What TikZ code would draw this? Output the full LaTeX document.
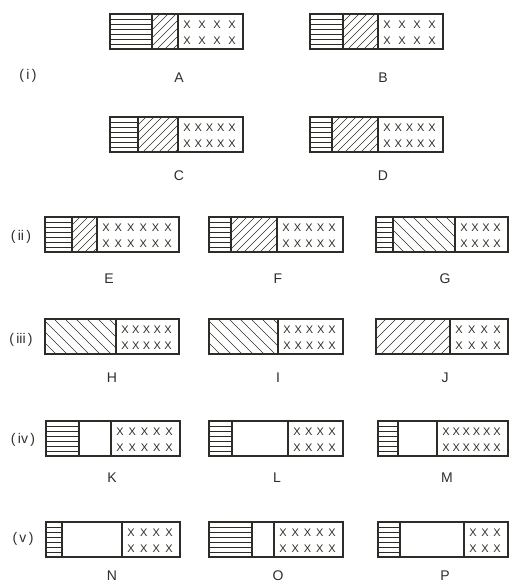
\documentclass[tikz,border=0pt]{standalone}
\usepackage{fontspec}
\setmainfont{Liberation Sans}
\usepackage{xcolor}
\usepackage{tikz}

\definecolor{ink}{RGB}{45,45,40}
\tikzset{
  frame/.style={draw=ink, line width=1.2pt},
  hatch/.style={draw=ink, line width=0.6pt},
  xmark/.style={text=ink, inner sep=0pt, font=\fontsize{11}{11}\selectfont},
  tag/.style={text=ink, font=\fontsize{14}{14}\selectfont}
}

% horizontal stripes: x1, x2, top
\newcommand{\hstripes}[3]{%
  \foreach \k in {5,10,...,30} \draw[hatch] (#1,#3+\k) -- (#2,#3+\k);}
% slanted hatching: x1, x2, top, gap
\newcommand{\slantfwd}[4]{%
  \begin{scope}
    \clip (#1,#3) rectangle (#2,#3+35);
    \foreach \k in {0,...,20} \draw[hatch] (#1-35+\k*#4,#3+35) -- ++(35,-35);
  \end{scope}}
\newcommand{\slantback}[4]{%
  \begin{scope}
    \clip (#1,#3) rectangle (#2,#3+35);
    \foreach \k in {0,...,20} \draw[hatch] (#1-35+\k*#4,#3) -- ++(35,35);
  \end{scope}}
\newcommand{\hatchfwd}[3]{\slantfwd{#1}{#2}{#3}{8}}
\newcommand{\hatchwide}[3]{\slantfwd{#1}{#2}{#3}{10}}
\newcommand{\hatchback}[3]{\slantback{#1}{#2}{#3}{11}}
\newcommand{\hatchnone}[3]{}
% one row of crosses: name, first x, last x, y, count
\newcommand{\xrow}[5]{%
  \foreach \k in {1,...,#5}
    \node[xmark] (#1\k) at ({#2+(\k-1)*((#3)-(#2))/(#5-1)}, #4) {X};}
% one strip: name, left, top, right, end of stripes, end of hatch, hatch kind, crosses
\newcommand{\segbox}[8]{%
  \ifdim#5pt>#2pt \hstripes{#2}{#5}{#3}\fi
  \csname hatch#7\endcsname{#5}{#6}{#3}
  \xrow{#1t}{#6+9}{#4-11}{#3+11}{#8}
  \xrow{#1b}{#6+9}{#4-11}{#3+27}{#8}
  \ifdim#5pt>#2pt \draw[frame] (#5,#3) -- (#5,#3+35);\fi
  \draw[frame] (#6,#3) -- (#6,#3+35);
  \draw[frame] (#2,#3) rectangle (#4,#3+35);}

\begin{document}
\begin{tikzpicture}[x=1pt, y=-1pt]
  \useasboundingbox (0,0) rectangle (511,583);

  % (i)
  \segbox{A}{110}{14}{243}{152}{178}{fwd}{4}
  \segbox{B}{310}{14}{443}{343}{378}{fwd}{4}
  \segbox{C}{110}{117}{243}{138}{178}{fwd}{5}
  \segbox{D}{310}{117}{443}{332}{378}{fwd}{5}
  \node[tag] (one) at (28,76) {(\,i\,)};
  \node[tag] (labA) at (179,78) {A};
  \node[tag] (labB) at (383,78) {B};
  \node[tag] (labC) at (179,176) {C};
  \node[tag] (labD) at (383,176) {D};

  % (ii)
  \segbox{E}{45}{217}{179}{72}{97}{fwd}{6}
  \segbox{F}{209}{217}{343}{231}{277}{fwd}{5}
  \segbox{G}{376}{217}{508}{393}{455}{back}{4}
  \node[tag] (two) at (21,237) {(\,ii\,)};
  \node[tag] (labE) at (109,279) {E};
  \node[tag] (labF) at (278,279) {F};
  \node[tag] (labG) at (445,279) {G};

  % (iii)
  \segbox{H}{45}{319}{179}{45}{116}{back}{5}
  \segbox{I}{209}{319}{343}{209}{278}{back}{5}
  \segbox{J}{376}{319}{508}{376}{450}{wide}{4}
  \node[tag] (three) at (21,340) {(\,iii\,)};
  \node[tag] (labH) at (112,378) {H};
  \node[tag] (labI) at (278,378) {I};
  \node[tag] (labJ) at (445,378) {J};

  % (iv)
  \segbox{K}{46}{421}{180}{79}{111}{none}{5}
  \segbox{L}{209}{421}{343}{232}{288}{none}{4}
  \segbox{M}{378}{421}{508}{398}{437}{none}{6}
  \node[tag] (four) at (23,440) {(\,iv\,)};
  \node[tag] (labK) at (112,478) {K};
  \node[tag] (labL) at (277,478) {L};
  \node[tag] (labM) at (447,478) {M};

  % (v)
  \segbox{N}{46}{522}{180}{62}{122}{none}{4}
  \segbox{O}{209}{522}{343}{252}{274}{none}{5}
  \segbox{P}{378}{522}{508}{400}{464}{none}{3}
  \node[tag] (five) at (23,539) {(\,v\,)};
  \node[tag] (labN) at (112,576) {N};
  \node[tag] (labO) at (278,576) {O};
  \node[tag] (labP) at (445,576) {P};
\end{tikzpicture}
\end{document}
